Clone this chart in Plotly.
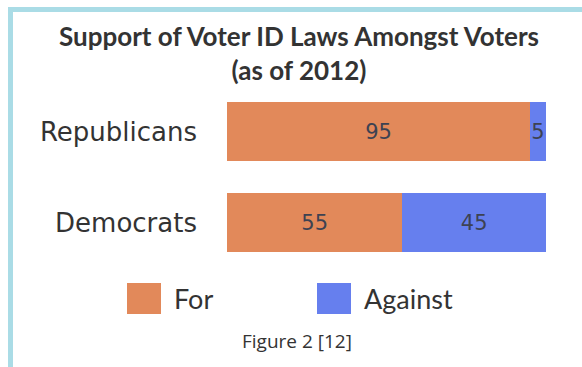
import plotly.graph_objects as go

categories = ["Republicans", "Democrats"]
series_names = ["For", "Against"]
for_values = [95, 55]
against_values = [5, 45]
colors = ["#E2895A", "#667FEE"]

W, H = 582, 367
L, R = 227, 36
T, B = 86, 99
pw = W - L - R
ph = H - T - B


def px_x(px):
    return (px - L) / pw


def px_y(py):
    return 1 - (py - T) / ph


fig = go.Figure()
for name, vals, col in zip(series_names, [for_values, against_values], colors):
    fig.add_trace(go.Bar(
        y=categories, x=vals, name=name, orientation="h",
        marker=dict(color=col, line=dict(width=0)),
        text=[str(v) for v in vals], textposition="inside",
        insidetextanchor="middle",
        textfont=dict(family="DejaVu Sans", size=21, color="#3D4252"),
        showlegend=False, hoverinfo="skip",
    ))

shapes = [
    # border (top and left)
    dict(type="line", xref="paper", yref="paper", x0=px_x(8), x1=px_x(585),
         y0=px_y(9.5), y1=px_y(9.5), line=dict(color="#AADCE6", width=5)),
    dict(type="line", xref="paper", yref="paper", x0=px_x(10.5), x1=px_x(10.5),
         y0=px_y(7), y1=px_y(370), line=dict(color="#AADCE6", width=5)),
]
annotations = []
legend_x = [127, 317]
for name, col, lx in zip(series_names, colors, legend_x):
    shapes.append(dict(type="rect", xref="paper", yref="paper",
                       x0=px_x(lx), x1=px_x(lx + 34), y0=px_y(283), y1=px_y(314),
                       fillcolor=col, line=dict(width=0)))
    annotations.append(dict(xref="paper", yref="paper", x=px_x(lx + 45), y=px_y(298),
                            xanchor="left", yanchor="middle", text=name, showarrow=False,
                            font=dict(family="Lato", size=27, color="#333333")))
annotations.append(dict(xref="paper", yref="paper", x=px_x(296.5), y=px_y(341),
                        xanchor="center", yanchor="middle", text="Figure 2 [12]",
                        showarrow=False,
                        font=dict(family="Open Sans", size=19, color="#333333")))

fig.update_layout(
    width=W, height=H,
    margin=dict(l=L, r=R, t=T, b=B),
    paper_bgcolor="white", plot_bgcolor="white",
    barmode="stack", bargap=0.348,
    title=dict(text="<b>Support of Voter ID Laws Amongst Voters<br>(as of 2012)</b>",
               x=299 / W, xanchor="center", y=1 - 46 / H, yanchor="top",
               font=dict(family="Lato", size=26, color="#333333")),
    xaxis=dict(range=[0, 100], visible=False, fixedrange=True),
    yaxis=dict(autorange="reversed", showgrid=False, zeroline=False, ticks="",
               showline=False, ticklabelstandoff=29, fixedrange=True,
               tickfont=dict(family="DejaVu Sans", size=26, color="#333333")),
    uniformtext=dict(mode="show", minsize=21),
    shapes=shapes, annotations=annotations,
)

fig.write_html("out.html", config={"displayModeBar": False},
               post_script="document.body.style.margin='0';")
